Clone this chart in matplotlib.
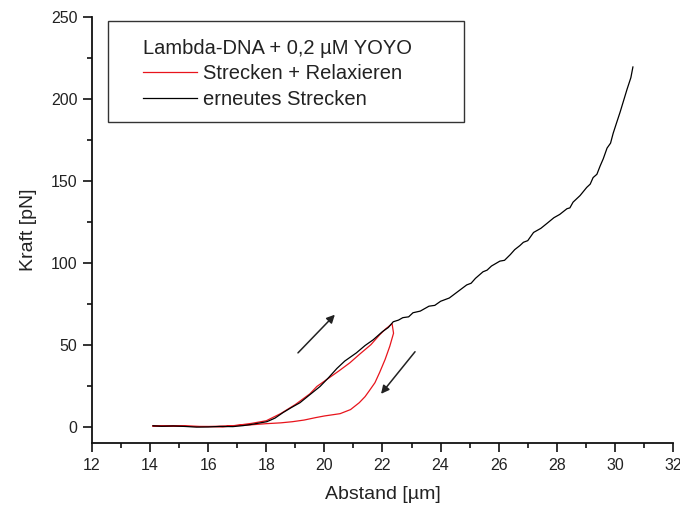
import matplotlib
matplotlib.use("Agg")
import matplotlib.pyplot as plt
from matplotlib.patches import Rectangle

plt.rcParams['font.family'] = ['Liberation Sans', 'DejaVu Sans']

# erneutes Strecken (black)
black_x = [14.1, 14.4, 14.8, 15.2, 15.6, 16.0, 16.4, 16.85, 17.2, 17.44, 17.7, 18.02,
           18.3, 18.57, 18.85, 19.16, 19.5, 19.85, 20.15, 20.43, 20.7, 21.1, 21.4,
           21.68, 22.0, 22.2, 22.37, 22.55, 22.7, 22.9, 23.05, 23.3, 23.6, 23.8, 24.0,
           24.3, 24.45, 24.6, 24.9, 25.05, 25.2, 25.46, 25.6, 25.75, 26.04, 26.2, 26.4,
           26.55, 26.73, 26.85, 27.0, 27.2, 27.45, 27.66, 27.9, 28.1, 28.35, 28.45,
           28.56, 28.8, 29.03, 29.15, 29.25, 29.38, 29.49, 29.6, 29.73, 29.85, 29.94,
           30.05, 30.18, 30.3, 30.42, 30.55, 30.62]
black_y = [0.5, 0.2, 0.4, 0.1, -0.3, -0.2, 0.1, 0.0, 0.6, 1.2, 2.0, 3.0,
           5.2, 8.5, 11.5, 14.6, 19.5, 24.5, 30.0, 35.5, 40.0, 45.0, 49.5,
           53.0, 58.0, 60.5, 64.0, 65.0, 66.5, 67.0, 69.5, 70.5, 73.5, 74.0, 76.5,
           78.5, 80.5, 82.5, 86.5, 87.5, 90.5, 94.5, 95.5, 98.0, 101.0, 101.5, 105.0,
           108.0, 110.5, 112.5, 113.5, 118.5, 121.0, 124.0, 127.5, 129.5, 133.0, 133.5,
           137.0, 141.0, 146.0, 148.0, 152.0, 154.0, 159.0, 163.5, 170.0, 173.0, 179.0,
           185.0, 192.0, 199.0, 206.0, 213.0, 219.5]

# Strecken + Relaxieren (red)
red_x = [14.1, 14.5, 15.0, 15.5, 16.0, 16.5, 17.0, 17.5, 18.0, 18.5, 19.0, 19.5,
         19.74, 20.1, 20.5, 20.88, 21.2, 21.6, 21.9, 22.1, 22.33,
         22.38, 22.25, 22.09, 21.9, 21.74, 21.55, 21.4, 21.2, 20.9, 20.54, 20.0,
         19.7, 19.3, 18.9, 18.5, 18.0, 17.4, 16.85, 16.3, 15.7, 15.0, 14.1]
red_y = [0.5, 0.3, 0.5, 0.2, 0.0, -0.2, 0.8, 2.0, 3.6, 8.0, 13.5, 20.0,
         24.5, 29.0, 34.0, 39.0, 44.0, 50.0, 56.0, 59.5, 62.8,
         57.0, 49.0, 41.0, 33.0, 26.8, 22.0, 18.3, 14.6, 10.4, 7.9, 6.5,
         5.5, 4.0, 3.0, 2.3, 1.8, 1.0, 0.6, 0.2, 0.0, 0.3, 0.3]

# direction arrows (tail -> head)
arrow_tails = [(19.09, 45.0), (23.12, 45.7)]
arrow_heads = [(20.36, 68.3), (21.95, 20.0)]

legend_title = "Lambda-DNA + 0,2 µM YOYO"
red_label = "Strecken + Relaxieren"
black_label = "erneutes Strecken"

fig = plt.figure(figsize=(6.8, 5.11), dpi=100)
AX_L, AX_B, AX_W, AX_H = 92, 68, 581, 426
ax = fig.add_axes([AX_L/680, AX_B/511, AX_W/680, AX_H/511])

ax.plot(red_x, red_y, color='#e8141c', lw=0.9, label=red_label, zorder=2)
ax.plot(black_x, black_y, color='black', lw=0.9, label=black_label, zorder=3)

for t, h in zip(arrow_tails, arrow_heads):
    ax.annotate('', xy=h, xytext=t,
                arrowprops=dict(arrowstyle='-|>', color='#222222', lw=1.1,
                                mutation_scale=12, shrinkA=0, shrinkB=0))

ax.set_xlim(12, 32)
ax.set_ylim(-10, 250)
ax.set_xticks(range(12, 33, 2))
ax.set_xticks(range(12, 33, 1), minor=True)
ax.set_yticks(range(0, 251, 50))
ax.set_yticks(range(0, 251, 25), minor=True)

for s in ['top', 'right']:
    ax.spines[s].set_visible(False)
for s in ['left', 'bottom']:
    ax.spines[s].set_linewidth(1.3)
    ax.spines[s].set_color('#111111')

ax.tick_params(which='major', direction='out', length=6.5, width=1.2,
               labelsize=11.5, colors='#111111', labelcolor='#222222', pad=4)
ax.tick_params(which='minor', direction='out', length=3.6, width=1.2, colors='#111111')

ax.set_xlabel("Abstand [µm]", fontsize=14, color='#222222', labelpad=10)
ax.set_ylabel("Kraft [pN]", fontsize=14, color='#222222', labelpad=10)

def px2ax(px, py):
    return (px - AX_L) / AX_W, (511 - AX_B - py) / AX_H

# legend frame
bx0, by1 = px2ax(108, 21)
bx1, by0 = px2ax(464, 122)
ax.add_patch(Rectangle((bx0, by0), bx1 - bx0, by1 - by0, transform=ax.transAxes,
                       facecolor='white', edgecolor='#333333', lw=1.0, zorder=4))

lx, ly = px2ax(143, 39)
leg = ax.legend(title=legend_title, loc='upper left', bbox_to_anchor=(lx, ly),
                fontsize=14.5, title_fontsize=14.5, alignment='left',
                frameon=False, handlelength=2.7, handletextpad=0.3,
                labelspacing=0.32, borderpad=0, borderaxespad=0)
leg.set_zorder(5)
for t in leg.get_texts():
    t.set_color('#222222')
leg.get_title().set_color('#222222')

fig.savefig('out.png', dpi=100)
